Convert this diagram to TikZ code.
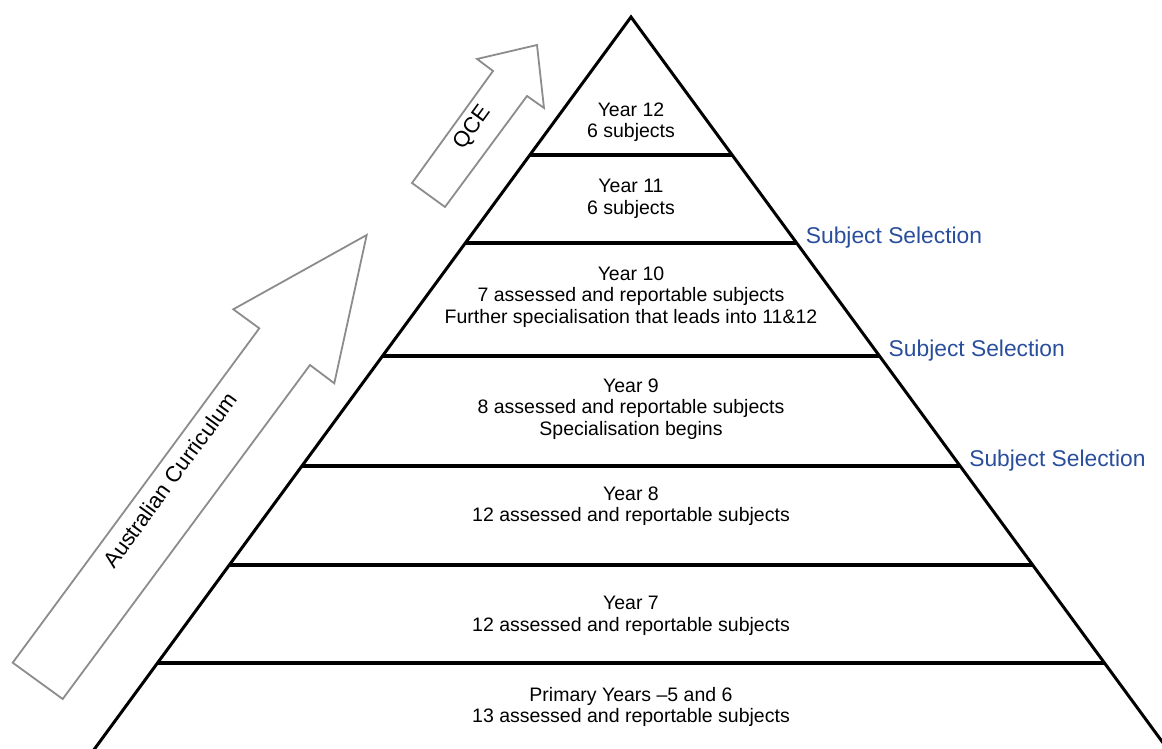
\documentclass[tikz,border=0pt]{standalone}
\usepackage{fontspec}
\setmainfont{Liberation Sans}
\usetikzlibrary{positioning}

\definecolor{selblue}{RGB}{41,78,155}
\definecolor{arrowgray}{RGB}{140,140,140}

\tikzset{
  level/.style={align=center, font=\fontsize{19.5}{21.5}\selectfont},
  selection/.style={anchor=base west, inner sep=0pt, xshift=9pt, text=selblue, font=\fontsize{22.8}{25}\selectfont},
  divider/.style={line width=4pt},
  bigarrow/.style={draw=arrowgray, line width=1.8pt, fill=white, line join=miter},
  arrowtext/.style={rotate=54, font=\fontsize{22}{24}\selectfont}
}

\begin{document}
\begin{tikzpicture}[x=1pt, y=-1pt]
  \useasboundingbox (0,0) rectangle (1162,749);
  \clip (0,0) rectangle (1162,749);

  % pyramid
  \coordinate (apex) at (631,17);
  \draw[line width=3pt, line join=miter] (86.4,760) -- (apex) -- (1175.6,760);

  \coordinate (d1l) at (529.8,155); \coordinate (d1r) at (732.2,155);
  \coordinate (d2l) at (465.3,243); \coordinate (d2r) at (796.7,243);
  \coordinate (d3l) at (382.5,356); \coordinate (d3r) at (879.5,356);
  \coordinate (d4l) at (301.9,466); \coordinate (d4r) at (960.1,466);
  \coordinate (d5l) at (229.3,565); \coordinate (d5r) at (1032.7,565);
  \coordinate (d6l) at (157.5,663); \coordinate (d6r) at (1104.5,663);
  \foreach \i in {1,...,6}
    \draw[divider] (d\i l) -- (d\i r);

  % levels
  \node[level] (y12) at (631,122) {Year 12\\6 subjects};
  \node[level] (y11) at (631,199) {Year 11\\6 subjects};
  \node[level] (y10) at (631,297) {Year 10\\7 assessed and reportable subjects\\Further specialisation that leads into 11\&12};
  \node[level] (y9) at (631,409) {Year 9\\8 assessed and reportable subjects\\Specialisation begins};
  \node[level] (y8) at (631,506) {Year 8\\12 assessed and reportable subjects};
  \node[level] (y7) at (631,616) {Year 7\\12 assessed and reportable subjects};
  \node[level] (prim) at (631,707) {Primary Years --5 and 6\\13 assessed and reportable subjects};

  % subject selection
  \node[selection] (sel1) at (d2r) {Subject Selection};
  \node[selection] (sel2) at (d3r) {Subject Selection};
  \node[selection] (sel3) at (d4r) {Subject Selection};

  % arrows
  \draw[bigarrow] (412,183) -- (493,71) -- (477,59) -- (537,45) -- (544,108) -- (527,96) -- (445,207) -- cycle;
  \node[arrowtext] (qce) at (473,128) {QCE};

  \draw[bigarrow] (12.7,662.7) -- (259.3,328.3) -- (233.3,309.3) -- (366.7,235) -- (334.3,383.3) -- (310,365) -- (62.7,699) -- cycle;
  \node[arrowtext] (ac) at (170,480) {Australian Curriculum};
\end{tikzpicture}
\end{document}
